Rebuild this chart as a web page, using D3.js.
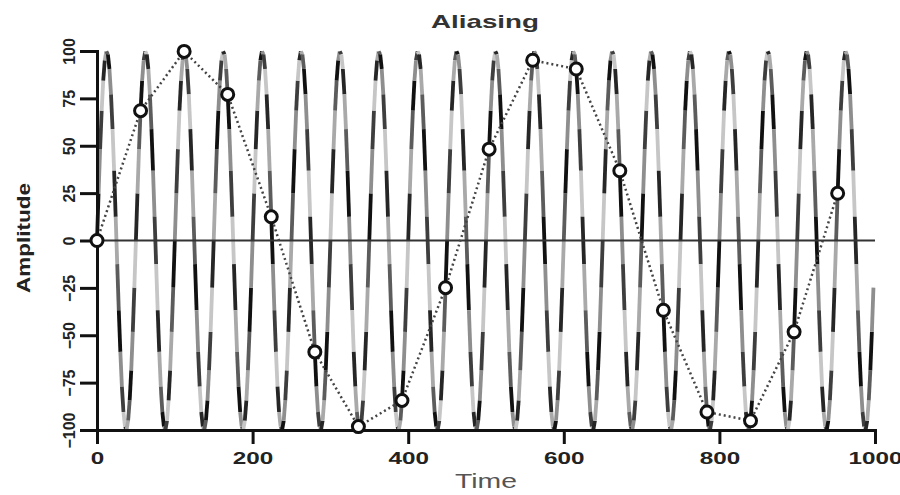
<!DOCTYPE html>
<html>
<head>
<meta charset="utf-8">
<script src="https://cdn.jsdelivr.net/npm/d3@7"></script>
<style>
  body { margin: 0; background: #fff; }
  svg { display: block; }
  text { font-family: "Liberation Sans", Arial, sans-serif; }
</style>
</head>
<body>
<svg id="chart" width="900" height="495"></svg>
<script>
// Continuous signal, one value every waveStep time units (period 50, amplitude 100)
const waveStep = 2;
const waveValues = [
  0,24.9,48.2,68.5,84.4,95.1,99.8,98.2,90.5,77.1,58.8,36.8,12.5,-12.5,-36.8,-58.8,-77.1,-90.5,-98.2,-99.8,-95.1,-84.4,-68.5,-48.2,-24.9,
  0,24.9,48.2,68.5,84.4,95.1,99.8,98.2,90.5,77.1,58.8,36.8,12.5,-12.5,-36.8,-58.8,-77.1,-90.5,-98.2,-99.8,-95.1,-84.4,-68.5,-48.2,-24.9,
  0,24.9,48.2,68.5,84.4,95.1,99.8,98.2,90.5,77.1,58.8,36.8,12.5,-12.5,-36.8,-58.8,-77.1,-90.5,-98.2,-99.8,-95.1,-84.4,-68.5,-48.2,-24.9,
  0,24.9,48.2,68.5,84.4,95.1,99.8,98.2,90.5,77.1,58.8,36.8,12.5,-12.5,-36.8,-58.8,-77.1,-90.5,-98.2,-99.8,-95.1,-84.4,-68.5,-48.2,-24.9,
  0,24.9,48.2,68.5,84.4,95.1,99.8,98.2,90.5,77.1,58.8,36.8,12.5,-12.5,-36.8,-58.8,-77.1,-90.5,-98.2,-99.8,-95.1,-84.4,-68.5,-48.2,-24.9,
  0,24.9,48.2,68.5,84.4,95.1,99.8,98.2,90.5,77.1,58.8,36.8,12.5,-12.5,-36.8,-58.8,-77.1,-90.5,-98.2,-99.8,-95.1,-84.4,-68.5,-48.2,-24.9,
  0,24.9,48.2,68.5,84.4,95.1,99.8,98.2,90.5,77.1,58.8,36.8,12.5,-12.5,-36.8,-58.8,-77.1,-90.5,-98.2,-99.8,-95.1,-84.4,-68.5,-48.2,-24.9,
  0,24.9,48.2,68.5,84.4,95.1,99.8,98.2,90.5,77.1,58.8,36.8,12.5,-12.5,-36.8,-58.8,-77.1,-90.5,-98.2,-99.8,-95.1,-84.4,-68.5,-48.2,-24.9,
  0,24.9,48.2,68.5,84.4,95.1,99.8,98.2,90.5,77.1,58.8,36.8,12.5,-12.5,-36.8,-58.8,-77.1,-90.5,-98.2,-99.8,-95.1,-84.4,-68.5,-48.2,-24.9,
  0,24.9,48.2,68.5,84.4,95.1,99.8,98.2,90.5,77.1,58.8,36.8,12.5,-12.5,-36.8,-58.8,-77.1,-90.5,-98.2,-99.8,-95.1,-84.4,-68.5,-48.2,-24.9,
  0,24.9,48.2,68.5,84.4,95.1,99.8,98.2,90.5,77.1,58.8,36.8,12.5,-12.5,-36.8,-58.8,-77.1,-90.5,-98.2,-99.8,-95.1,-84.4,-68.5,-48.2,-24.9,
  0,24.9,48.2,68.5,84.4,95.1,99.8,98.2,90.5,77.1,58.8,36.8,12.5,-12.5,-36.8,-58.8,-77.1,-90.5,-98.2,-99.8,-95.1,-84.4,-68.5,-48.2,-24.9,
  0,24.9,48.2,68.5,84.4,95.1,99.8,98.2,90.5,77.1,58.8,36.8,12.5,-12.5,-36.8,-58.8,-77.1,-90.5,-98.2,-99.8,-95.1,-84.4,-68.5,-48.2,-24.9,
  0,24.9,48.2,68.5,84.4,95.1,99.8,98.2,90.5,77.1,58.8,36.8,12.5,-12.5,-36.8,-58.8,-77.1,-90.5,-98.2,-99.8,-95.1,-84.4,-68.5,-48.2,-24.9,
  0,24.9,48.2,68.5,84.4,95.1,99.8,98.2,90.5,77.1,58.8,36.8,12.5,-12.5,-36.8,-58.8,-77.1,-90.5,-98.2,-99.8,-95.1,-84.4,-68.5,-48.2,-24.9,
  0,24.9,48.2,68.5,84.4,95.1,99.8,98.2,90.5,77.1,58.8,36.8,12.5,-12.5,-36.8,-58.8,-77.1,-90.5,-98.2,-99.8,-95.1,-84.4,-68.5,-48.2,-24.9,
  0,24.9,48.2,68.5,84.4,95.1,99.8,98.2,90.5,77.1,58.8,36.8,12.5,-12.5,-36.8,-58.8,-77.1,-90.5,-98.2,-99.8,-95.1,-84.4,-68.5,-48.2,-24.9,
  0,24.9,48.2,68.5,84.4,95.1,99.8,98.2,90.5,77.1,58.8,36.8,12.5,-12.5,-36.8,-58.8,-77.1,-90.5,-98.2,-99.8,-95.1,-84.4,-68.5,-48.2,-24.9,
  0,24.9,48.2,68.5,84.4,95.1,99.8,98.2,90.5,77.1,58.8,36.8,12.5,-12.5,-36.8,-58.8,-77.1,-90.5,-98.2,-99.8,-95.1,-84.4,-68.5,-48.2,-24.9,
  0,24.9,48.2,68.5,84.4,95.1,99.8,98.2,90.5,77.1,58.8,36.8,12.5,-12.5,-36.8,-58.8,-77.1,-90.5,-98.2,-99.8,-95.1,-84.4,-68.5,-48.2,-24.9
];

// Sampled signal (too slow a sampling rate, so it shows the alias)
const sampleTimes  = [0, 56, 112, 168, 224, 280, 336, 392, 448, 504, 560, 616, 672, 728, 784, 840, 896, 952];
const sampleValues = [0, 68.5, 99.8, 77.1, 12.5, -58.8, -98.2, -84.4, -24.9, 48.2, 95.1, 90.5, 36.8, -36.8, -90.5, -95.1, -48.2, 24.9];

const xTicks = [0, 200, 400, 600, 800, 1000];
const yTicks = [-100, -75, -50, -25, 0, 25, 50, 75, 100];

// Gray shades cycled along the wave segments
const segmentShades = ["#111111", "#8e8e8e", "#3e3e3e", "#c6c6c6", "#262626", "#a9a9a9", "#5c5c5c"];

const svg = d3.select("#chart");
const x = d3.scaleLinear().domain([0, 1000]).range([97, 875]);
const y = d3.scaleLinear().domain([-100, 100]).range([430, 51]);

// Wave, drawn segment by segment
const wavePts = waveValues.map((v, i) => ({ t: i * waveStep, v }));
const segs = d3.pairs(wavePts);
svg.append("g")
  .selectAll("line")
  .data(segs)
  .join("line")
  .attr("x1", d => x(d[0].t))
  .attr("y1", d => y(d[0].v))
  .attr("x2", d => x(d[1].t))
  .attr("y2", d => y(d[1].v))
  .attr("stroke", (d, i) => segmentShades[i % segmentShades.length])
  .attr("stroke-width", 3.8)
  .attr("stroke-linecap", "butt");

// Zero reference line
svg.append("line")
  .attr("x1", x(0)).attr("x2", x(1000))
  .attr("y1", y(0)).attr("y2", y(0))
  .attr("stroke", "#333").attr("stroke-width", 2);

// Axes
const yAxis = svg.append("g")
  .attr("transform", `translate(${x(0)},0)`)
  .call(d3.axisLeft(y).tickValues(yTicks).tickSize(17).tickSizeOuter(0));
yAxis.selectAll("path, line").attr("stroke", "#111").attr("stroke-width", 3);
yAxis.selectAll("text")
  .attr("x", null).attr("dy", null)
  .attr("transform", "translate(-22,0) rotate(-90)")
  .attr("text-anchor", "middle")
  .attr("fill", "#222")
  .attr("font-size", 16)
  .attr("font-weight", "bold");

const xAxis = svg.append("g")
  .attr("transform", `translate(0,${y(-100)})`)
  .call(d3.axisBottom(x).tickValues(xTicks).tickFormat(d3.format("d")).tickSize(14).tickSizeOuter(0));
xAxis.selectAll("path, line").attr("stroke", "#111").attr("stroke-width", 3);
xAxis.selectAll("text")
  .attr("y", 22).attr("dy", "0.71em")
  .attr("fill", "#222")
  .attr("font-size", 17)
  .attr("font-weight", "bold")
  .attr("textLength", d => String(d).length * 13.5)
  .attr("lengthAdjust", "spacingAndGlyphs");
svg.selectAll(".domain").attr("stroke-linecap", "square");

// Sampled points joined by a dotted line
const sampleLine = d3.line().x(d => x(d[0])).y(d => y(d[1]));
const samples = sampleTimes.map((t, i) => [t, sampleValues[i]]);
svg.append("path")
  .datum(samples)
  .attr("d", sampleLine)
  .attr("fill", "none")
  .attr("stroke", "#444")
  .attr("stroke-width", 2.5)
  .attr("stroke-dasharray", "2,3");
svg.append("g")
  .selectAll("circle")
  .data(samples)
  .join("circle")
  .attr("cx", d => x(d[0]))
  .attr("cy", d => y(d[1]))
  .attr("r", 6)
  .attr("fill", "#fff")
  .attr("stroke", "#111")
  .attr("stroke-width", 3);

// Titles
svg.append("text")
  .attr("x", 485).attr("y", 28)
  .attr("text-anchor", "middle")
  .attr("font-size", 19).attr("font-weight", "bold")
  .attr("fill", "#333")
  .attr("textLength", 108).attr("lengthAdjust", "spacingAndGlyphs")
  .text("Aliasing");

svg.append("text")
  .attr("x", 486).attr("y", 488)
  .attr("text-anchor", "middle")
  .attr("font-size", 21)
  .attr("fill", "#555")
  .attr("textLength", 62).attr("lengthAdjust", "spacingAndGlyphs")
  .text("Time");

svg.append("text")
  .attr("transform", "translate(30,238) rotate(-90)")
  .attr("text-anchor", "middle")
  .attr("font-size", 19).attr("font-weight", "bold")
  .attr("fill", "#222")
  .attr("textLength", 110).attr("lengthAdjust", "spacingAndGlyphs")
  .text("Amplitude");
</script>
</body>
</html>
